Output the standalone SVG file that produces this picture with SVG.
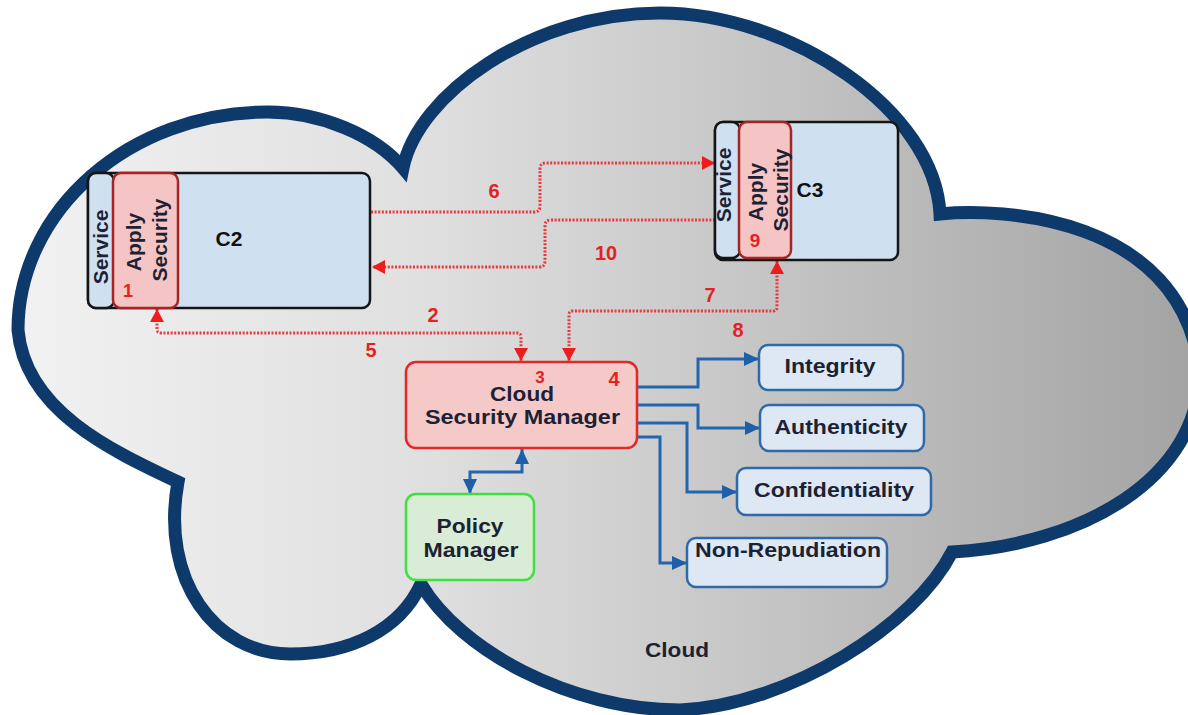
<svg xmlns="http://www.w3.org/2000/svg" width="1188" height="715" viewBox="0 0 1188 715">
<defs>
<linearGradient id="cloudFill" gradientUnits="userSpaceOnUse" x1="0" y1="0" x2="1188" y2="0">
<stop offset="0" stop-color="#f2f2f2"/>
<stop offset="0.35" stop-color="#e0e0e0"/>
<stop offset="0.6" stop-color="#c9c9c9"/>
<stop offset="1" stop-color="#a4a4a4"/>
</linearGradient>
<marker id="redArrow" markerUnits="userSpaceOnUse" markerWidth="14" markerHeight="14" refX="13" refY="7" orient="auto-start-reverse">
<path d="M0,0 L13,7 L0,14 z" fill="#ee1c1c"/>
</marker>
<marker id="blueArrow" markerUnits="userSpaceOnUse" markerWidth="16" markerHeight="14" refX="15" refY="7" orient="auto-start-reverse">
<path d="M0,0 L15,7 L0,14 z" fill="#1f5fa8"/>
</marker>
</defs>
<style>
.lbl{font-family:"Liberation Sans",Arial,sans-serif;font-weight:bold;font-size:21px;fill:#1c2233;text-anchor:middle}
.num{font-family:"Liberation Sans",Arial,sans-serif;font-weight:bold;font-size:20px;fill:#e32222;text-anchor:middle}
.comp{fill:#cfe0f1;stroke:#151515;stroke-width:2.5}
.apply{fill:#f5c5c5;stroke:#a82424;stroke-width:2.5}
.prop{fill:#dde8f4;stroke:#2f6aa8;stroke-width:2.5}
.red{fill:none;stroke:#e8393c;stroke-width:3;stroke-dasharray:2 1.6}
.blue{fill:none;stroke:#2565ad;stroke-width:3}
</style>
<rect width="1188" height="715" fill="#ffffff"/>
<g id="cloud">
<path d="M178,482 C110,450 25,410 18,330 C18,210 130,112 268,112 C320,112 375,135 403,168 C418,95 530,13 660,13 C790,13 935,110 940,214 C1000,208 1180,215 1200,370 C1200,480 1080,545 952,552 C915,625 790,705 680,710 C570,710 460,650 421,584 C400,630 350,654 290,654 C215,654 160,580 178,482 Z" fill="url(#cloudFill)" stroke="#0d3a6b" stroke-width="13" stroke-linejoin="miter" stroke-miterlimit="3"/>
<text class="lbl" x="677" y="657" textLength="64" lengthAdjust="spacingAndGlyphs">Cloud</text>
</g>
<g id="connectors">
<path class="red" d="M371,212 H534 Q540,212 540,206 V169 Q540,163 546,163 H715" marker-end="url(#redArrow)"/>
<path class="red" d="M715,220 H551 Q545,220 545,226 V261 Q545,267 539,267 H372" marker-end="url(#redArrow)"/>
<path class="red" d="M157,309 V329 Q157,333 161,333 H517 Q521,333 521,337 V361" marker-start="url(#redArrow)" marker-end="url(#redArrow)"/>
<path class="red" d="M777,261 V307 Q777,311 773,311 H573 Q569,311 569,315 V361" marker-start="url(#redArrow)" marker-end="url(#redArrow)"/>
<path class="blue" d="M637,387 H698 V359 H759" marker-end="url(#blueArrow)"/>
<path class="blue" d="M637,405 H698 V428 H760" marker-end="url(#blueArrow)"/>
<path class="blue" d="M637,423 H687 V492 H737" marker-end="url(#blueArrow)"/>
<path class="blue" d="M637,437 H660 V563 H687" marker-end="url(#blueArrow)"/>
<path class="blue" d="M522,449 V472 H470 V494" marker-start="url(#blueArrow)" marker-end="url(#blueArrow)"/>
<text class="num" x="494" y="198">6</text>
<text class="num" x="606" y="260">10</text>
<text class="num" x="433" y="322">2</text>
<text class="num" x="371" y="357">5</text>
<text class="num" x="710" y="302">7</text>
<text class="num" x="738" y="337">8</text>
</g>
<g id="c2">
<rect class="comp" x="88" y="173" width="282" height="135" rx="8"/>
<rect class="comp" x="88" y="173" width="26" height="135" rx="8"/>
<rect class="apply" x="113" y="173" width="65" height="135" rx="8"/>
<text class="lbl" transform="translate(108,247) rotate(-90)">Service</text>
<text class="lbl" transform="translate(141,242) rotate(-90)">Apply</text>
<text class="lbl" transform="translate(167,240) rotate(-90)">Security</text>
<text class="lbl" x="229" y="246" style="fill:#111111">C2</text>
<text class="num" x="128" y="297" style="font-size:18px">1</text>
</g>
<g id="c3">
<rect class="comp" x="715" y="122" width="183" height="138" rx="8"/>
<rect class="comp" x="715" y="122" width="25" height="136" rx="8"/>
<rect class="apply" x="739" y="122" width="52" height="136" rx="8"/>
<text class="lbl" transform="translate(731,185) rotate(-90)">Service</text>
<text class="lbl" transform="translate(763,192) rotate(-90)">Apply</text>
<text class="lbl" transform="translate(788,190) rotate(-90)">Security</text>
<text class="lbl" x="810" y="197" style="fill:#111111">C3</text>
<text class="num" x="755" y="247" style="font-size:19px">9</text>
</g>
<g id="csm">
<rect x="406" y="362" width="231" height="86" rx="10" fill="#f6c9c9" stroke="#e02a2a" stroke-width="2.5"/>
<text class="lbl" x="522" y="401" textLength="64" lengthAdjust="spacingAndGlyphs">Cloud</text>
<text class="lbl" x="522.5" y="424" textLength="195" lengthAdjust="spacingAndGlyphs">Security Manager</text>
<text class="num" x="540" y="383" style="font-size:17px">3</text>
<text class="num" x="614" y="386">4</text>
</g>
<g id="policy">
<rect x="406" y="494" width="128" height="86" rx="10" fill="#d9ecd5" stroke="#3fe03f" stroke-width="2.5"/>
<text class="lbl" x="470" y="533" textLength="67" lengthAdjust="spacingAndGlyphs">Policy</text>
<text class="lbl" x="471" y="557" textLength="95" lengthAdjust="spacingAndGlyphs">Manager</text>
</g>
<g id="integrity">
<rect class="prop" x="759" y="345" width="144" height="45" rx="9"/>
<text class="lbl" x="830" y="373" textLength="91" lengthAdjust="spacingAndGlyphs">Integrity</text>
</g>
<g id="authenticity">
<rect class="prop" x="760" y="405" width="164" height="46" rx="9"/>
<text class="lbl" x="841" y="434" textLength="133" lengthAdjust="spacingAndGlyphs">Authenticity</text>
</g>
<g id="confidentiality">
<rect class="prop" x="737" y="468" width="194" height="47" rx="9"/>
<text class="lbl" x="834" y="497" textLength="160" lengthAdjust="spacingAndGlyphs">Confidentiality</text>
</g>
<g id="nonrepudiation">
<rect class="prop" x="687" y="538" width="200" height="49" rx="9"/>
<text class="lbl" x="788" y="557" textLength="186" lengthAdjust="spacingAndGlyphs">Non-Repudiation</text>
</g>
</svg>
